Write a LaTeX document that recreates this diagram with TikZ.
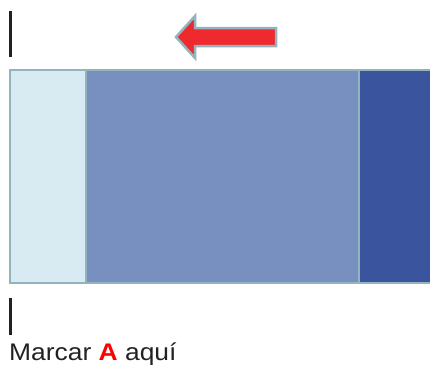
\documentclass[tikz,border=0pt]{standalone}
\usepackage{fontspec}
\setmainfont{Liberation Sans}
\definecolor{paleblue}{HTML}{D8EAF2}
\definecolor{midblue}{HTML}{7890C0}
\definecolor{deepblue}{HTML}{3A559E}
\definecolor{edgegray}{HTML}{93B3BE}
\definecolor{arrowred}{HTML}{EE2A2E}
\definecolor{markred}{HTML}{FF0000}
\definecolor{textgray}{HTML}{222222}

\begin{document}
\begin{tikzpicture}[x=1pt,y=-1pt,
  segment/.style={draw=edgegray,line width=2pt,inner sep=0pt,outer sep=0pt,anchor=north west},
  cursorbar/.style={line width=3pt,draw=textgray}]
\useasboundingbox (0,0) rectangle (430,365);
% markers
\draw[cursorbar] (10.5,11) -- (10.5,57);
\draw[cursorbar] (10.5,298) -- (10.5,335);
% arrow
\draw[edgegray,fill=arrowred,line width=2.5pt,line join=miter]
  (176,37) -- (195,16) -- (195,28) -- (276,28) -- (276,46) -- (195,46) -- (195,58) -- cycle;
% bar
\node[segment,fill=paleblue,minimum width=76pt,minimum height=213pt] (left) at (10,70) {};
\node[segment,fill=midblue,minimum width=273pt,minimum height=213pt] (middle) at (86,70) {};
\node[segment,fill=deepblue,minimum width=75pt,minimum height=213pt] (right) at (359,70) {};
% label
\node[anchor=base west,inner sep=0pt,xscale=1.1,font=\fontsize{24}{28}\selectfont,text=textgray] (label) at (9,360)
  {Marcar \textbf{\color{markred}A} aquí};
\end{tikzpicture}
\end{document}
